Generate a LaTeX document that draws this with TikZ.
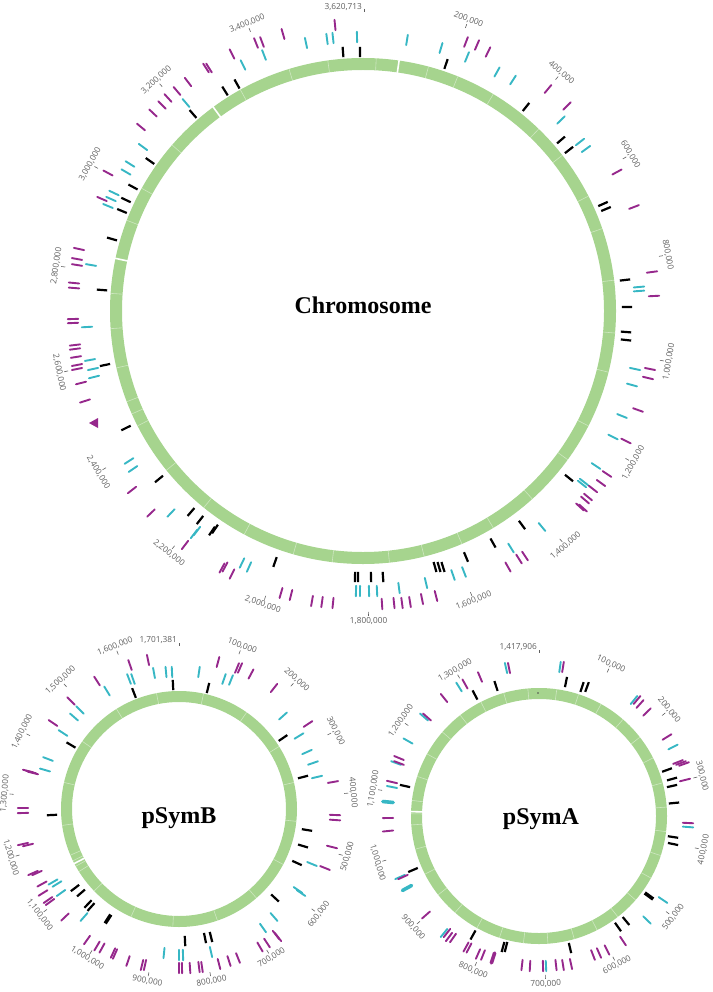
\documentclass[tikz,border=0pt]{standalone}
\usepackage{fontspec}
\setmainfont{Liberation Serif}
\newfontfamily\lblfam{Open Sans}
\usetikzlibrary{calc}
\definecolor{ringg}{RGB}{166,212,142}
\definecolor{pur}{RGB}{150,40,140}
\definecolor{cya}{RGB}{55,183,196}
\definecolor{lblgray}{RGB}{95,95,95}
\tikzset{
  purmark/.style={draw=pur, line width=1.9pt, line cap=round},
  cyamark/.style={draw=cya, line width=1.9pt, line cap=round},
  blkmark/.style={draw=black, line width=2.2pt},
  thickmark/.style={line width=3.6pt},
  scalelbl/.style={font=\lblfam\fontsize{8.3}{10}\selectfont, text=lblgray, inner sep=0pt},
  scaletick/.style={draw=lblgray, line width=0.6pt},
  bigtitle/.style={font=\bfseries\fontsize{24}{28}\selectfont, anchor=base, inner sep=0pt},
  faintline/.style={draw=white, draw opacity=0.45, line width=0.6pt},
  gapline/.style={draw=white, line width=1.6pt},
}
% marks: style, centre, list of x/y
\newcommand\mrk[3]{\foreach \mx/\my in {#3}{\draw[#1] ($(\mx,\my)!5.2pt!(#2)$) -- ($(\mx,\my)!-5.2pt!(#2)$);}}
% ring lines: style, centre, r1, r2, angle list
\newcommand\rlines[5]{\foreach \ra in {#5}{\draw[#1] ($(#2)+({#3*sin(\ra)},{-#3*cos(\ra)})$) -- ($(#2)+({#4*sin(\ra)},{-#4*cos(\ra)})$);}}
% labels: centre, length (100k), text radius, list p/text
\newcommand\glabels[4]{\foreach \p/\t in {#4}{%
  \pgfmathsetmacro\th{360*\p/#2}%
  \pgfmathsetmacro\rot{(\th>90 && \th<270) ? 180-\th : -\th}%
  \node[scalelbl, rotate=\rot] at ($(#1)+({#3*sin(\th)},{-#3*cos(\th)})$) {\t};
  \draw[scaletick] ($(#1)+({(#3-9)*sin(\th)},{-(#3-9)*cos(\th)})$) -- ($(#1)+({(#3-5)*sin(\th)},{-(#3-5)*cos(\th)})$);}}
\begin{document}
\begin{tikzpicture}[x=1pt,y=-1pt]
\useasboundingbox (0,0) rectangle (712,992);
\coordinate (CC) at (363,311);
\coordinate (CB) at (179,809);
\coordinate (CA) at (539,816);

% ===== rings =====
\draw[ringg, line width=12pt] (CC) circle[radius=247];
\draw[ringg, line width=11pt] (CB) circle[radius=112.5];
\draw[ringg, line width=11pt] (CA) circle[radius=122.5];
\rlines{faintline}{CC}{241}{253}{3,15,22,31,44,52,63,71,83,95,104,117,126,138,149,157,166,174,187,196,208,219,231,243,246,249,257,266,274,291,299,311,331,343,352}
\rlines{gapline}{CC}{240}{254}{8.2,323.7,282}
\rlines{faintline}{CB}{107}{118}{12,35,58,77,96,118,139,161,183,204,226,238,241,244,247,262,283,305,328,349}
\rlines{gapline}{CB}{106}{119}{242.5}
\rlines{faintline}{CA}{117}{128}{8,18,29,41,52,63,75,86,97,108,119,131,142,153,164,176,187,198,209,221,232,243,255,266,271,277,288,299,311,322,333,344,355}
\rlines{gapline}{CA}{116}{129}{272}
\fill[black!70] (538,693) circle[radius=0.8];

% ===== titles =====
\node[bigtitle] (tchr) at (363,313) {Chromosome};
\node[bigtitle] (tsb) at (179,823) {pSymB};
\node[bigtitle] (tsa) at (541,824) {pSymA};

% ===== Chromosome marks =====
\mrk{blkmark}{CC}{343/52,360/52,446/64,526/107,561/140,569/150,603/204,606/209,625/280,627/307,626/332,626/340,569/478,522/525,493/543,466/557,435/567,439/567,443/567,383/577,371/577,355/577,358/577,275/562,212/531,215/529,200/520,191/512,159/479,126/428,105/365,102/290,112/239,122/211,126/200,133/187,150/161,193/114,225/91,237/84}
\mrk{cyamark}{CC}{327/39,333/38,357/37,306/43,264/55,407/40,441/48,467/57,497/72,513/80,561/120,580/142,586/149,639/287,639/291,635/369,632/385,622/416,613/437,596/466,582/484,584/482,542/527,511/548,453/575,464/572,426/583,399/588,356/591,360/591,369/591,377/591,249/567,242/563,194/534,197/531,171/513,129/461,133/469,94/377,93/369,90/360,87/327,91/265,108/206,111/199,114/193,126/172,130/164,143/147,186/103,243/65}
\mrk{purmark}{CC}{335/25,283/34,256/43,262/42,466/42,477/45,488/52,548/89,567/106,617/172,634/207,652/272,654/296,650/369,648/378,638/410,626/441,607/474,593/489,601/483,588/497,585/500,580/507,583/508,519/559,525/556,508/567,436/596,422/599,410/602,402/603,394/603,382/604,333/603,322/602,312/601,291/595,281/593,232/574,222/568,225/567,185/545,151/513,132/490,85/401,81/383,77/365,77/369,76/357,75/345,75/349,73/319,73/323,74/283,74/288,77/259,77/265,79/249,102/199,108/173,141/127,153/113,162/105,168/98,177/91,188/82,206/68,209/68,232/54}
\fill[pur] (89,423) -- (98,418) -- (98,428) -- cycle;

% ===== pSymB marks =====
\mrk{blkmark}{CB}{173/685,208/688,134/693,71/745,52/815,75/888,81/893,88/904,91/907,185/941,205/938,211/937,275/898,297/863,303/846,307/830,303/777,283/738}
\mrk{blkmark,thickmark}{CB}{108/919}
\mrk{cyamark}{CB}{166/672,172/672,154/673,129/679,133/679,107/691,80/710,74/717,63/733,48/759,45/770,199/672,224/679,231/680,283/716,299/736,307/752,313/763,317/777,312/864,298/890,301/893,274/917,263/928,211/952,179/955,183/955,164/953,84/917,61/893,53/882,57/884}
\mrk{purmark}{CB}{148/660,130/665,97/681,71/701,53/723,28/771,31/772,33/773,218/662,237/668,240/668,251/674,274/688,308/724,333/782,335/815,335/820,332/847,325/868,276/935,278/937,267/943,260/947,238/958,229/961,219/964,202/967,199/967,190/968,182/968,179/968,142/965,145/965,128/961,113/953,115/954,102/948,97/946,87/940,65/917,48/900,50/902,43/893,42/884,33/873,37/873,23/844,28/845,23/808,23/813}

% ===== pSymA marks =====
\mrk{blkmark}{CA}{566/682,582/687,587/687,496/686,475/695,405/786,413/870,473/935,503/947,506/947,570/948,618/927,626/921,673/837,673/844,674/803,672/779,672/786,667/770}
\mrk{blkmark,thickmark}{CA}{649/896}
\mrk{cyamark}{CA}{560/667,506/668,459/687,424/717,408/741,396/763,392/787,400/877,444/933,546/966,647/920,663/900,688/827,673/747,634/700}
\mrk{cyamark,thickmark}{CA}{388/802,407/888}
\mrk{purmark}{CA}{563/667,509/668,480/677,465/684,444/698,427/717,399/758,399/763,392/782,388/818,388/831,403/877,426/915,447/933,449/937,453/938,466/947,469/948,478/954,483/955,522/965,530/966,543/966,556/965,563/965,571/964,593/955,599/953,607/950,623/941,688/823,685/780,678/762,681/763,684/764,667/737,647/712,640/704,637/700}
\mrk{purmark,thickmark}{CA}{493/958}

% ===== scale labels =====
\glabels{CC}{36.20713}{310}{2/{200,000},4/{400,000},6/{600,000},8/{800,000},10/{1,000,000},12/{1,200,000},14/{1,400,000},16/{1,600,000},18/{1,800,000},20/{2,000,000},22/{2,200,000},24/{2,400,000},26/{2,600,000},28/{2,800,000},30/{3,000,000},32/{3,200,000},34/{3,400,000}}
\node[scalelbl, anchor=east] (endc) at (362,7) {3,620,713};
\draw[scaletick] (364,9) -- (364,12);
\glabels{CB}{17.01381}{175}{1/{100,000},2/{200,000},3/{300,000},4/{400,000},5/{500,000},6/{600,000},7/{700,000},8/{800,000},9/{900,000},10/{1,000,000},11/{1,100,000},12/{1,200,000},13/{1,300,000},14/{1,400,000},15/{1,500,000},16/{1,600,000}}
\node[scalelbl, anchor=east] (endb) at (177,640) {1,701,381};
\draw[scaletick] (179,643) -- (179,646);
\glabels{CA}{14.17906}{168}{1/{100,000},2/{200,000},3/{300,000},4/{400,000},5/{500,000},6/{600,000},7/{700,000},8/{800,000},9/{900,000},10/{1,000,000},11/{1,100,000},12/{1,200,000},13/{1,300,000}}
\node[scalelbl, anchor=east] (enda) at (537,647) {1,417,906};
\draw[scaletick] (539,650) -- (539,653);
\end{tikzpicture}
\end{document}
